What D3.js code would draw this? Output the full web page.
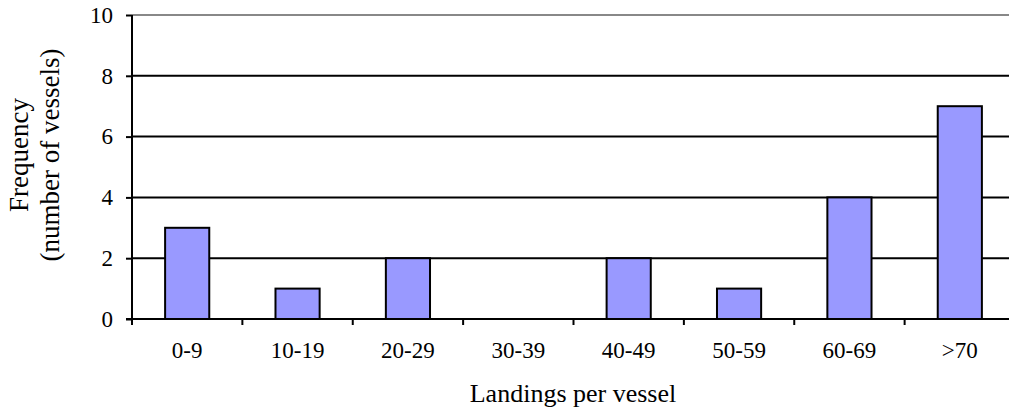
<!DOCTYPE html>
<html>
<head>
<meta charset="utf-8">
<script src="https://cdn.jsdelivr.net/npm/d3@7"></script>
<style>
  html, body { margin: 0; padding: 0; background: #fff; }
  svg { display: block; }
  text { font-family: "Liberation Serif", "Times New Roman", serif; fill: #000; }
</style>
</head>
<body>
<svg id="chart" width="1009" height="413"></svg>
<script>
// Landings per vessel histogram
const categories = ["0-9", "10-19", "20-29", "30-39", "40-49", "50-59", "60-69", ">70"];
const frequency = [3, 1, 2, 0, 2, 1, 4, 7];
const yTicks = [0, 2, 4, 6, 8, 10];

const svg = d3.select("#chart");
const plotLeft = 132, plotTop = 15, plotBottom = 319, plotRight = 1015;

const x = d3.scaleBand().domain(categories).range([plotLeft, plotRight]).paddingInner(0.6).paddingOuter(0.3);
const xBand = d3.scaleBand().domain(categories).range([plotLeft, plotRight]);
const y = d3.scaleLinear().domain([0, 10]).range([plotBottom, plotTop]);

// horizontal gridlines
svg.append("g")
  .selectAll("line")
  .data(yTicks.filter(d => d > 0))
  .join("line")
  .attr("x1", plotLeft).attr("x2", 1009)
  .attr("y1", d => y(d)).attr("y2", d => y(d))
  .attr("stroke", d => d === 10 ? "#888" : "#000")
  .attr("stroke-width", 2);

// bars
svg.append("g")
  .selectAll("rect")
  .data(categories.map((c, i) => ({ c, v: frequency[i] })).filter(d => d.v > 0))
  .join("rect")
  .attr("x", d => x(d.c))
  .attr("width", x.bandwidth())
  .attr("y", d => y(d.v))
  .attr("height", d => y(0) - y(d.v))
  .attr("fill", "#9999ff")
  .attr("stroke", "#000")
  .attr("stroke-width", 2);

// y axis
const yAxis = svg.append("g")
  .attr("transform", `translate(${plotLeft},0)`)
  .call(d3.axisLeft(y).tickValues(yTicks).tickSize(6).tickPadding(13));
yAxis.select(".domain").attr("stroke", "#000").attr("stroke-width", 2).attr("d", `M0,${plotTop}V${plotBottom}`);
yAxis.selectAll(".tick line").attr("stroke", "#000").attr("stroke-width", 2);
yAxis.selectAll(".tick text")
  .style("font-size", "23px")
  .style("font-family", "'Liberation Serif', serif");

// x axis baseline with ticks at category boundaries
const xg = svg.append("g").attr("transform", `translate(0,${plotBottom})`);
xg.append("line").attr("x1", plotLeft - 6).attr("x2", 1009).attr("y1", 0).attr("y2", 0)
  .attr("stroke", "#000").attr("stroke-width", 2);
xg.selectAll("line.tk")
  .data(categories)
  .join("line")
  .attr("class", "tk")
  .attr("x1", d => xBand(d)).attr("x2", d => xBand(d))
  .attr("y1", 0).attr("y2", 6)
  .attr("stroke", "#000").attr("stroke-width", 2);
xg.selectAll("text")
  .data(categories)
  .join("text")
  .attr("x", d => xBand(d) + xBand.bandwidth() / 2)
  .attr("y", 39)
  .attr("text-anchor", "middle")
  .style("font-size", "23px")
  .text(d => d);

// axis titles
svg.append("text")
  .attr("x", 573).attr("y", 402)
  .attr("text-anchor", "middle")
  .style("font-size", "26px")
  .text("Landings per vessel");

const yt = svg.append("text")
  .attr("transform", "translate(0,155) rotate(-90)")
  .attr("text-anchor", "middle")
  .style("font-size", "27px");
yt.append("tspan").attr("x", 0).attr("y", 28).text("Frequency");
yt.append("tspan").attr("x", 0).attr("y", 59).text("(number of vessels)");
</script>
</body>
</html>
